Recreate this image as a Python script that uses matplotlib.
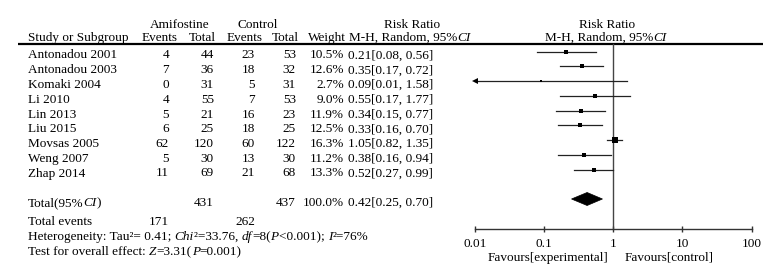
import matplotlib
matplotlib.use("Agg")
import matplotlib.pyplot as plt
import numpy as np
from matplotlib.patches import Polygon

# ---------------- data ----------------
studies = ["Antonadou 2001", "Antonadou 2003", "Komaki 2004", "Li 2010", "Lin 2013",
           "Liu 2015", "Movsas 2005", "Weng 2007", "Zhap 2014"]
amif_events = [4, 7, 0, 4, 5, 6, 62, 5, 11]
amif_total = [44, 36, 31, 55, 21, 25, 120, 30, 69]
ctrl_events = [23, 18, 5, 7, 16, 18, 60, 13, 21]
ctrl_total = [53, 32, 31, 53, 23, 25, 122, 30, 68]
weights = [10.5, 12.6, 2.7, 9.0, 11.9, 12.5, 16.3, 11.2, 13.3]
rr = [0.21, 0.35, 0.09, 0.55, 0.34, 0.33, 1.05, 0.38, 0.52]
rr_lo = [0.08, 0.17, 0.01, 0.17, 0.15, 0.16, 0.82, 0.16, 0.27]
rr_hi = [0.56, 0.72, 1.58, 1.77, 0.77, 0.70, 1.35, 0.94, 0.99]
total_amif, total_ctrl, total_weight = 431, 437, 100.0
total_events_amif, total_events_ctrl = 171, 262
pooled_rr, pooled_lo, pooled_hi = 0.42, 0.25, 0.70
xticks = [0.01, 0.1, 1, 10, 100]
xtick_labels = ["0.01", "0.1", "1", "10", "100"]

# ---------------- layout ----------------
W, H = 784, 267
FAM = ["Liberation Serif", "Noto Sans CJK SC", "DejaVu Sans"]
FS = 9.5
plt.rcParams["font.family"] = FAM

fig = plt.figure(figsize=(W / 100, H / 100), dpi=100)
ax0 = fig.add_axes([0, 0, 1, 1])
ax0.set_xlim(0, W)
ax0.set_ylim(H, 0)
ax0.axis("off")

renderer = fig.canvas.get_renderer()


def measure(s, style="normal"):
    t1 = ax0.text(0, 0, s + "|", fontsize=FS, fontstyle=style, family=FAM)
    t2 = ax0.text(0, 0, "|", fontsize=FS, fontstyle=style, family=FAM)
    w = t1.get_window_extent(renderer).width - t2.get_window_extent(renderer).width
    t1.remove()
    t2.remove()
    return w


def runs(x, y, parts, ha="left"):
    widths = [measure(s, st) for s, st in parts]
    total = sum(widths)
    if ha == "center":
        x = x - total / 2
    elif ha == "right":
        x = x - total
    cx = x
    for (s, st), w in zip(parts, widths):
        ax0.text(cx, y, s, fontsize=FS, fontstyle=st, family=FAM, ha="left", va="baseline")
        cx += w


def txt(x, y, s, ha="left"):
    ax0.text(x, y, s, fontsize=FS, family=FAM, ha=ha, va="baseline")


# header
txt(180, 28, "Amifostine", "center")
txt(258, 28, "Control", "center")
txt(412, 28, "Risk Ratio", "center")
txt(607, 28, "Risk Ratio", "center")
txt(28, 41, "Study or Subgroup")
txt(160, 41, "Events", "center")
txt(202, 41, "Total", "center")
txt(245, 41, "Events", "center")
txt(285, 41, "Total", "center")
txt(346, 41, "Weight", "right")
runs(349, 41, [("M-H, Random, 95%", "normal"), ("CI", "italic")], ha="left")
runs(606, 41, [("M-H, Random, 95%", "normal"), ("CI", "italic")], ha="center")
ax0.plot([18, 763], [44, 44], color="black", lw=1.6, solid_capstyle="butt")

row_y = [51.7 + 14.75 * i for i in range(len(studies))]
for i, y in enumerate(row_y):
    b = y + 6.8
    txt(28, b, studies[i])
    txt(169, b, str(amif_events[i]), "right")
    txt(214, b, str(amif_total[i]), "right")
    txt(255, b, str(ctrl_events[i]), "right")
    txt(296, b, str(ctrl_total[i]), "right")
    txt(344, b, f"{weights[i]:.1f}%", "right")
    txt(348, b, f"{rr[i]:.2f}[{rr_lo[i]:.2f}, {rr_hi[i]:.2f}]")

tot_y = 199
runs(28, tot_y + 7, [("Total(95%", "normal"), ("CI", "italic"), (")", "normal")])
txt(214, tot_y + 7, str(total_amif), "right")
txt(296, tot_y + 7, str(total_ctrl), "right")
txt(344, tot_y + 7, f"{total_weight:.1f}%", "right")
txt(348, tot_y + 7, f"{pooled_rr:.2f}[{pooled_lo:.2f}, {pooled_hi:.2f}]")
txt(28, 225, "Total events")
txt(169, 225, str(total_events_amif), "right")
txt(255, 225, str(total_events_ctrl), "right")
runs(28, 240, [("Heterogeneity: Tau²= 0.41; ", "normal"), ("Chi", "italic"), ("²=33.76, ", "normal"),
               ("df", "italic"), ("=8(", "normal"), ("P", "italic"), ("<0.001); ", "normal"),
               ("I", "italic"), ("²=76%", "normal")])
runs(28, 255, [("Test for overall effect: ", "normal"), ("Z", "italic"), ("=3.31(", "normal"),
               ("P", "italic"), ("=0.001)", "normal")])

txt(608, 261, "Favours[experimental]", "right")
txt(625, 261, "Favours[control]", "left")

# ---------------- forest axes ----------------
x_left, x_right = 474.7, 751.7
y_top, y_axis = 44, 229
ax = fig.add_axes([x_left / W, (H - y_axis) / H, (x_right - x_left) / W, (y_axis - y_top) / H])
ax.set_xscale("log")
ax.set_xlim(0.01, 100)
ax.set_ylim(y_axis, y_top)
ax.patch.set_alpha(0)
for s in ["top", "left", "right"]:
    ax.spines[s].set_visible(False)
ax.spines["bottom"].set_color("#333333")
ax.spines["bottom"].set_linewidth(1.0)
ax.set_yticks([])
ax.set_xticks(xticks)
ax.set_xticklabels(xtick_labels)
ax.minorticks_off()
ax.tick_params(axis="x", direction="inout", length=4.5, width=1.0, color="#333333",
               pad=4.5, labelsize=FS)
for lab in ax.get_xticklabels():
    lab.set_family(FAM)

ax.plot([1, 1], [y_top, y_axis], color="#444444", lw=1.0, clip_on=False)

for i, y in enumerate(row_y):
    lo = max(rr_lo[i], 0.01)
    ax.plot([lo, rr_hi[i]], [y, y], color="#222222", lw=0.9, clip_on=False)
    side_px = 1.3 * np.sqrt(weights[i])
    ax.plot([rr[i]], [y], marker="s", color="black", markersize=side_px * 0.72,
            markeredgewidth=0, clip_on=False)
    if rr_lo[i] <= 0.01:
        ax.plot([0.01], [y], marker="<", color="black", markersize=4.5,
                markeredgewidth=0, clip_on=False)

dh = 6.5
diamond = Polygon([(pooled_lo, tot_y), (pooled_rr, tot_y - dh), (pooled_hi, tot_y),
                   (pooled_rr, tot_y + dh)], closed=True, facecolor="black", edgecolor="black", lw=0.5)
ax.add_patch(diamond)

fig.savefig("out.png", dpi=100)
